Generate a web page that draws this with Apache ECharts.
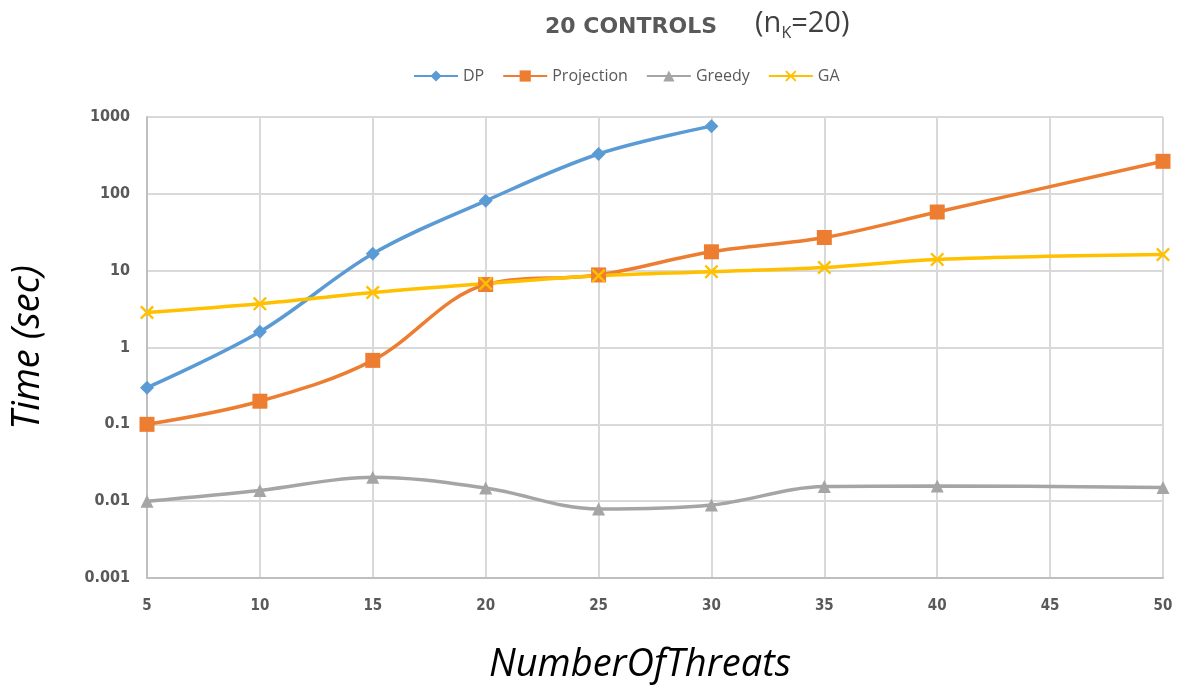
<!DOCTYPE html>
<html>
<head>
<meta charset="utf-8">
<script src="https://cdn.jsdelivr.net/npm/echarts@6/dist/echarts.min.js"></script>
<style>html,body{margin:0;padding:0;background:#fff}#c{width:1188px;height:687px}</style>
</head>
<body>
<div id="c"></div>
<script>
const categories = ['5','10','15','20','25','30','35','40','45','50'];
const dp = [0.30, 1.6, 16.6, 81, 330, 760, null, null, null, null];
const projection = [0.1, 0.2, 0.68, 6.6, 8.8, 17.6, 27, 58, null, 265];
const greedy = [0.01, 0.0138, 0.0205, 0.0148, 0.0079, 0.0089, 0.0155, 0.0158, null, 0.0151];
const ga = [2.85, 3.7, 5.2, 6.8, 8.6, 9.7, 11, 14, null, 16.2];
const yTicks = [0.001, 0.01, 0.1, 1, 10, 100, 1000];

const labelFont = "'Liberation Sans Narrow','DejaVu Sans Condensed',sans-serif";
const chart = echarts.init(document.getElementById('c'));
const xPath = 'path://M0,1.2L1.2,0L5,3.8L8.8,0L10,1.2L6.2,5L10,8.8L8.8,10L5,6.2L1.2,10L0,8.8L3.8,5Z';
function mk(name, data, color, symbol, size) {
  return {
    name, type: 'line', data, smooth: 0.35, connectNulls: true,
    symbol, symbolSize: size, showSymbol: true,
    lineStyle: {color, width: 3.5},
    itemStyle: {color},
    emphasis: {disabled: true}
  };
}
chart.setOption({
  animation: false,
  backgroundColor: '#fff',
  title: {
    text: '{a|20 CONTROLS}{g|}{b|(n}{s|K}{b|=20)}',
    left: 540, top: 2,
    textStyle: {
      fontWeight: 'normal',
      rich: {
        a: {fontFamily: "'DejaVu Sans',sans-serif", fontWeight: 'bold', fontSize: 22, color: '#595959', padding: [7,0,0,0]},
        g: {width: 38},
        b: {fontFamily: "'Open Sans',sans-serif", fontWeight: 'normal', fontSize: 29, color: '#404040'},
        s: {fontFamily: "'Open Sans',sans-serif", fontWeight: 'normal', fontSize: 16, color: '#404040', padding: [18,0,0,0]}
      }
    }
  },
  legend: {
    top: 63, left: 408,
    itemWidth: 44, itemHeight: 14, itemGap: 18,
    textStyle: {fontFamily: "'Open Sans',sans-serif", fontSize: 16, color: '#595959'},
    data: ['DP','Projection','Greedy','GA']
  },
  grid: {left: 147, right: 25, top: 117, bottom: 109, outerBoundsMode: 'none'},
  xAxis: {
    type: 'category', data: categories, boundaryGap: false,
    name: 'NumberOfThreats', nameLocation: 'middle', nameGap: 68,
    nameTextStyle: {fontFamily: "'Open Sans',sans-serif", fontStyle: 'italic', fontSize: 38, color: '#000', padding: [0, 30, 0, 0]},
    axisLine: {lineStyle: {color: '#bfbfbf', width: 2}},
    axisTick: {show: false},
    axisLabel: {fontFamily: labelFont, fontWeight: 'bold', fontSize: 15, color: '#595959', margin: 21},
    splitLine: {show: true, lineStyle: {color: '#d9d9d9', width: 2}}
  },
  yAxis: {
    type: 'log', logBase: 10, min: 0.001, max: 1000,
    name: 'Time (sec)', nameLocation: 'middle', nameGap: 100, nameRotate: 90,
    nameTextStyle: {fontFamily: "'Open Sans',sans-serif", fontStyle: 'italic', fontSize: 38, color: '#000'},
    axisLine: {show: true, lineStyle: {color: '#bfbfbf', width: 2}},
    axisTick: {show: false},
    axisLabel: {fontFamily: labelFont, fontWeight: 'bold', fontSize: 16, color: '#595959', margin: 17,
      formatter: v => { const t = yTicks.find(x => Math.abs(x - v) / x < 1e-6); return t !== undefined ? String(t) : ''; }},
    splitLine: {show: true, lineStyle: {color: '#d9d9d9', width: 2}}
  },
  series: [
    mk('DP', dp, '#5B9BD5', 'diamond', 14),
    mk('Projection', projection, '#ED7D31', 'rect', 15),
    mk('Greedy', greedy, '#A5A5A5', 'triangle', 13),
    mk('GA', ga, '#FFC000', xPath, 14)
  ]
});
</script>
</body>
</html>
